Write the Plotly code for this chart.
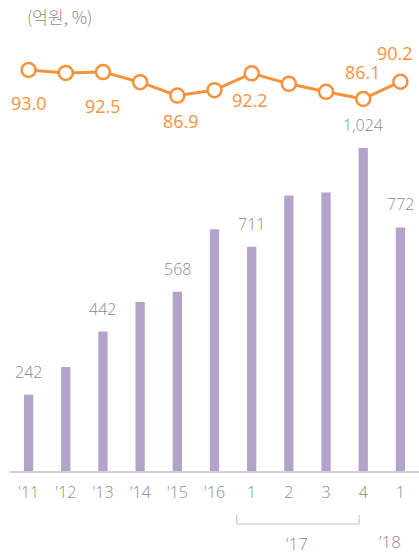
import plotly.graph_objects as go

tick_labels = ["'11", "'12", "'13", "'14", "'15", "'16", "1", "2", "3", "4", "1"]
sales = [242, 330, 442, 536, 568, 766, 711, 873, 883, 1024, 772]
sales_labels = ["242", "", "442", "", "568", "", "711", "", "", "1,024", "772"]
ratio = [93.0, 92.3, 92.5, 90.1, 86.9, 88.2, 92.2, 89.7, 87.8, 86.1, 90.2]
ratio_labels = ["93.0", "", "92.5", "", "86.9", "", "92.2", "", "", "86.1", "90.2"]
ratio_label_shift = [-33, 0, -34, 0, -25, 0, -27, 0, 0, 27, 29]
ratio_label_xshift = [0, 0, 0, 0, 4, 0, -2, 0, 0, 0, -5]
unit_text = "(억원, %)"
group_labels = ["’17", "’18"]

x = list(range(len(tick_labels)))
GRAY = "#8a8a8a"
ORANGE = "#F7923A"
PURPLE = "#B3A2C9"
FONT = "Open Sans, Noto Sans, sans-serif"

fig = go.Figure()
fig.add_trace(go.Bar(x=x, y=sales, width=0.25, marker=dict(color=PURPLE, line=dict(width=0)),
                     hoverinfo="skip"))
fig.add_trace(go.Scatter(x=x, y=ratio, yaxis="y2", mode="lines+markers",
                         line=dict(color=ORANGE, width=3),
                         marker=dict(symbol="circle", size=14, color="white",
                                     line=dict(color=ORANGE, width=2.5)),
                         cliponaxis=False, hoverinfo="skip"))

ann = []
for i, (v, t) in enumerate(zip(sales, sales_labels)):
    if t:
        ann.append(dict(x=i, y=v, xref="x", yref="y", text=t, showarrow=False,
                        yanchor="middle", yshift=23,
                        font=dict(family=FONT, size=16, color=GRAY, weight=300)))
for i, (v, t) in enumerate(zip(ratio, ratio_labels)):
    if t:
        ann.append(dict(x=i, y=v, xref="x", yref="y2", text=t, showarrow=False,
                        yanchor="middle", yshift=ratio_label_shift[i], xshift=ratio_label_xshift[i],
                        font=dict(family=FONT, size=18, color=ORANGE)))
ann.append(dict(x=15 / 409, y=1, xref="paper", yref="paper", xanchor="left", yanchor="middle",
                yshift=-16, text=unit_text, showarrow=False,
                font=dict(family="Noto Sans CJK KR", size=17, color=GRAY, weight=300)))
ann.append(dict(x=7.22, y=0, xref="x", yref="paper", text=group_labels[0], showarrow=False,
                yanchor="middle", yshift=-72, font=dict(family=FONT, size=17, color=GRAY, weight=300)))
ann.append(dict(x=9.72, y=0, xref="x", yref="paper", text=group_labels[1], showarrow=False,
                yanchor="middle", yshift=-70, font=dict(family=FONT, size=17, color=GRAY, weight=300)))

H = 471.0
shapes = [
    dict(type="line", xref="x", yref="paper", x0=5.6, x1=8.89, y0=-53 / H, y1=-53 / H,
         line=dict(color="#c0c0c0", width=1)),
    dict(type="line", xref="x", yref="paper", x0=5.6, x1=5.6, y0=-53 / H, y1=-44 / H,
         line=dict(color="#c0c0c0", width=1)),
    dict(type="line", xref="x", yref="paper", x0=8.89, x1=8.89, y0=-53 / H, y1=-44 / H,
         line=dict(color="#c0c0c0", width=1)),
]

fig.update_layout(
    width=419, height=555,
    margin=dict(l=10, r=0, t=0, b=84),
    paper_bgcolor="white", plot_bgcolor="white",
    showlegend=False,
    xaxis=dict(range=[-0.5, 10.5], tickmode="array", tickvals=x, ticktext=tick_labels,
               showgrid=False, zeroline=False, showline=True, linecolor="#cfcfcf", linewidth=1.5,
               ticks="", tickfont=dict(family=FONT, size=16, color=GRAY, weight=300),
               ticklabelstandoff=6),
    yaxis=dict(range=[0, 1493], visible=False, showgrid=False),
    yaxis2=dict(range=[-2.48, 109.66], overlaying="y", visible=False, showgrid=False),
    annotations=ann,
    shapes=shapes,
)

fig.write_html("out.html", config={"displayModeBar": False},
               post_script="document.body.style.margin='0';document.body.style.overflow='hidden';")
